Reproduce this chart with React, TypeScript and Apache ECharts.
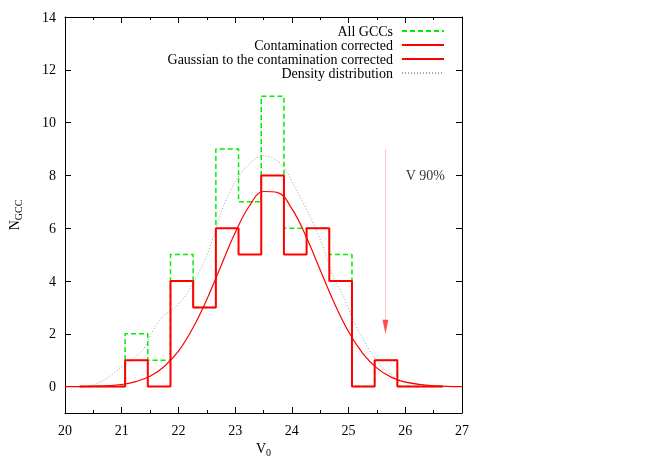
import React, { useEffect, useRef } from "react";
import * as echarts from "echarts";

const binEdges = [20.26, 20.66, 21.06, 21.46, 21.86, 22.26, 22.66, 23.06, 23.46, 23.86, 24.26, 24.66, 25.06, 25.46, 25.86, 26.26, 26.66];
const allGCCs = [0, 0, 2, 1, 5, 3, 9, 7, 11, 6, 6, 5, 0, 1, 0, 0];
const corrected = [0, 0, 1, 0, 4, 3, 6, 5, 8, 5, 6, 4, 0, 1, 0, 0];

const gaussianX = [20, 20.5, 21, 21.25, 21.5, 21.75, 22, 22.25, 22.5, 22.75, 23, 23.25, 23.5, 23.75, 24, 24.25, 24.5, 24.75, 25, 25.25, 25.5, 25.75, 26, 26.5, 27];
const gaussianY = [0.0, 0.01, 0.08, 0.19, 0.39, 0.76, 1.34, 2.2, 3.3, 4.57, 5.83, 6.84, 7.39, 7.35, 6.74, 5.69, 4.42, 3.16, 2.08, 1.26, 0.7, 0.36, 0.17, 0.03, 0.0];

const densityX = [20.3, 20.47, 20.7, 20.94, 21.17, 21.38, 21.52, 21.7, 21.94, 22.11, 22.29, 22.47, 22.65, 22.79, 23.02, 23.26, 23.49, 23.67, 23.85, 24.08, 24.32, 24.55, 24.73, 24.91, 25.08, 25.26, 25.43, 25.67, 25.9, 26.2, 26.49, 26.65];
const densityY = [0.0, 0.05, 0.26, 0.64, 1.02, 1.4, 2.0, 2.6, 3.0, 3.4, 4.05, 4.8, 5.88, 6.82, 7.83, 8.46, 8.75, 8.65, 8.34, 7.45, 6.44, 5.3, 4.17, 3.42, 2.53, 1.78, 1.15, 0.58, 0.26, 0.11, 0.02, 0.0];

const arrowX = 25.65;
const arrowTop = 9.0;
const arrowTip = 2.0;
const markerLabel = "V 90%";
const markerLabelPos = [26.0, 8.0];

const xTickLabels = [20, 21, 22, 23, 24, 25, 26, 27];
const yTickLabels = [0, 2, 4, 6, 8, 10, 12, 14];

const legendNames = ["All GCCs", "Contamination corrected", "Gaussian to the contamination corrected", "Density distribution"];

const FONT = "Liberation Serif";

function stepPoints(edges: number[], vals: number[]) {
  const pts: number[][] = [];
  vals.forEach((v, i) => {
    pts.push([edges[i], v]);
    pts.push([edges[i + 1], v]);
  });
  return pts;
}

function zip(xs: number[], ys: number[]) {
  return xs.map((x, i) => [x, ys[i]]);
}

export default function App() {
  const ref = useRef<HTMLDivElement>(null);
  useEffect(() => {
    if (!ref.current) return;
    const chart = echarts.init(ref.current, null, { renderer: "svg" });
    const black = "#000";
    const xCommon = {
      type: "value",
      min: xTickLabels[0],
      max: xTickLabels[xTickLabels.length - 1],
      interval: 1,
      axisLine: { onZero: false, lineStyle: { color: black, width: 1 } },
      axisTick: { inside: true, length: 6, lineStyle: { color: black } },
      minorTick: { show: true, splitNumber: 2, length: 3, lineStyle: { color: black } },
      splitLine: { show: false },
      minorSplitLine: { show: false },
    };
    const yCommon = {
      type: "value",
      min: -1,
      max: 14,
      axisLine: { onZero: false, lineStyle: { color: black, width: 1 } },
      axisTick: { inside: true, length: 6, lineStyle: { color: black }, customValues: yTickLabels },
      splitLine: { show: false },
    };
    chart.setOption({
      animation: false,
      grid: { left: 65, top: 17, width: 397, height: 396, outerBoundsMode: "none", containLabel: false },
      legend: {
        data: legendNames,
        orient: "vertical",
        align: "right",
        right: 209,
        top: 24,
        padding: 0,
        itemWidth: 42,
        itemHeight: 14,
        itemGap: 0,
        selectedMode: false,
        itemStyle: { opacity: 0 },
        textStyle: { fontFamily: FONT, fontSize: 14, lineHeight: 14, color: black, padding: [0, 4, 0, 0] },
      },
      xAxis: [
        {
          ...xCommon,
          position: "bottom",
          axisLabel: { fontFamily: FONT, fontSize: 14, color: black, margin: 10 },
          name: "{a|V}{b|0}",
          nameLocation: "middle",
          nameGap: 26,
          nameTextStyle: {
            rich: {
              a: { fontFamily: FONT, fontSize: 14, color: black, lineHeight: 18 },
              b: { fontFamily: FONT, fontSize: 10, color: black, lineHeight: 10, verticalAlign: "bottom" },
            },
          },
        },
        { ...xCommon, position: "top", axisLabel: { show: false } },
      ],
      yAxis: [
        {
          ...yCommon,
          position: "left",
          axisLabel: { fontFamily: FONT, fontSize: 14, color: black, margin: 9, customValues: yTickLabels },
          name: "{a|N}{b|GCC}",
          nameLocation: "middle",
          nameGap: 42,
          nameRotate: 90,
          nameTextStyle: {
            rich: {
              a: { fontFamily: FONT, fontSize: 14, color: black, lineHeight: 18 },
              b: { fontFamily: FONT, fontSize: 10, color: black, lineHeight: 10, verticalAlign: "bottom" },
            },
          },
        },
        { ...yCommon, position: "right", axisLabel: { show: false } },
      ],
      series: [
        {
          name: legendNames[0],
          type: "line",
          data: stepPoints(binEdges, allGCCs),
          symbol: "none",
          lineStyle: { color: "#00ee00", width: 1.5, type: [5, 3] },
          itemStyle: { color: "#00ee00" },
          z: 2,
        },
        {
          name: legendNames[3],
          type: "line",
          data: zip(densityX, densityY),
          smooth: 0.3,
          symbol: "none",
          lineStyle: { color: "#a0a0a0", width: 1, type: [1, 2] },
          itemStyle: { color: "#a0a0a0" },
          z: 3,
        },
        {
          name: legendNames[1],
          type: "line",
          data: stepPoints(binEdges, corrected),
          symbol: "none",
          lineStyle: { color: "#ff0000", width: 2 },
          itemStyle: { color: "#ff0000" },
          z: 4,
        },
        {
          name: legendNames[2],
          type: "line",
          data: zip(gaussianX, gaussianY),
          smooth: 0.4,
          symbol: "none",
          lineStyle: { color: "#ff0000", width: 1.2 },
          itemStyle: { color: "#ff0000" },
          z: 5,
        },
        {
          name: "arrow",
          type: "line",
          data: [[arrowX, arrowTop], [arrowX, arrowTip + 0.4]],
          symbol: "none",
          lineStyle: { color: "#ffc4c4", width: 1 },
          silent: true,
          z: 5,
        },
        {
          name: "arrowhead",
          type: "scatter",
          data: [[arrowX, arrowTip + 0.27]],
          symbol: "triangle",
          symbolRotate: 180,
          symbolSize: [6, 14],
          itemStyle: { color: "#ff2020" },
          silent: true,
          z: 6,
        },
        {
          name: "marker",
          type: "scatter",
          data: [markerLabelPos],
          symbolSize: 1,
          itemStyle: { color: "rgba(0,0,0,0)" },
          label: {
            show: true,
            position: "right",
            distance: 0,
            formatter: markerLabel,
            fontFamily: FONT,
            fontSize: 14,
            color: black,
          },
          silent: true,
        },
      ],
    });
    return () => chart.dispose();
  }, []);
  return <div ref={ref} style={{ position: "fixed", left: 0, top: 0, width: 654, height: 458 }} />;
}
